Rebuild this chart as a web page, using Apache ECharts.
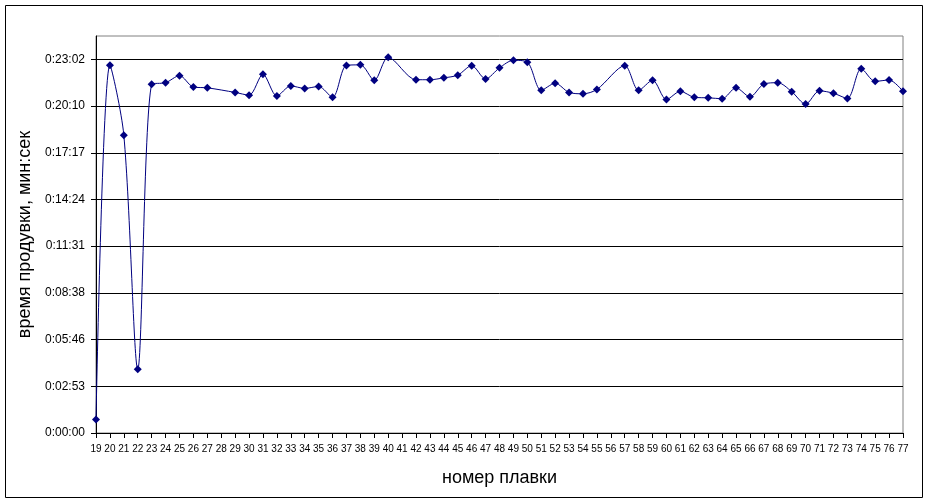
<!DOCTYPE html>
<html><head><meta charset="utf-8">
<script src="https://cdn.jsdelivr.net/npm/echarts@6/dist/echarts.min.js"></script>
<style>html,body{margin:0;padding:0;background:#fff}#c{width:929px;height:504px}</style>
</head><body><div id="c"></div>
<script>
// heat numbers (номер плавки)
const categories = [];
for (let n = 19; n <= 77; n++) categories.push(String(n));

// blowing time in seconds (null = no data for that heat)
const blowTimeSec = [
  50, 1361, 1102, 236, 1290, 1296, 1322, 1280, 1277, null,   // 19-28
  1260, 1250, 1327, 1247, 1284, 1275, 1282, 1242, 1360, 1362, // 29-38
  1305, 1390, null, 1307, 1307, 1314, 1324, 1359, 1310, 1351, // 39-48
  1379, 1372, 1268, 1294, 1260, 1255, 1271, null, 1359, 1268, // 49-58
  1305, 1234, 1264, 1242, 1240, 1237, 1277, 1244, 1291, 1296, // 59-68
  1263, 1217, 1266, 1257, 1238, 1348, 1301, 1306, 1264        // 69-77
];

const yTickLabels = ['0:00:00','0:02:53','0:05:46','0:08:38','0:11:31','0:14:24','0:17:17','0:20:10','0:23:02'];
const yInterval = 172.8;
const yMax = 1468.8;

const FONT = "'Liberation Sans', Arial, sans-serif";
const chart = echarts.init(document.getElementById('c'), null, {renderer: 'canvas'});
chart.setOption({
  animation: false,
  backgroundColor: '#ffffff',
  graphic: [{
    type: 'rect', silent: true, z: -1,
    shape: {x: 5.5, y: 5.5, width: 917, height: 492},
    style: {fill: 'none', stroke: '#000000', lineWidth: 1}
  }],
  grid: {
    left: 96, right: 26, top: 36, bottom: 71,
    show: true, borderColor: '#808080', borderWidth: 1, backgroundColor: 'transparent'
  },
  xAxis: {
    type: 'category',
    data: categories,
    boundaryGap: false,
    name: 'номер плавки',
    nameLocation: 'middle',
    nameGap: 36,
    nameTextStyle: {fontFamily: FONT, fontSize: 18, color: '#000'},
    axisLine: {lineStyle: {color: '#000', width: 1}},
    axisTick: {show: true, inside: false, length: 5, interval: 0, lineStyle: {color: '#000'}},
    axisLabel: {interval: 0, margin: 11, fontFamily: FONT, fontSize: 10, color: '#000'},
    splitLine: {show: false}
  },
  yAxis: {
    type: 'value',
    min: 0, max: yMax, interval: yInterval,
    name: 'время продувки, мин:сек',
    nameLocation: 'middle',
    nameRotate: 90,
    nameGap: 60,
    nameTextStyle: {fontFamily: FONT, fontSize: 18, color: '#000'},
    axisLine: {show: true, lineStyle: {color: '#000', width: 1}},
    axisTick: {show: true, inside: false, length: 5, lineStyle: {color: '#000'}},
    axisLabel: {
      margin: 11, fontFamily: FONT, fontSize: 12, color: '#000',
      showMaxLabel: false,
      formatter: function (v) {
        const i = Math.round(v / yInterval);
        return (Math.abs(v - i * yInterval) < 1e-6 && yTickLabels[i] !== undefined) ? yTickLabels[i] : '';
      }
    },
    splitLine: {show: true, showMinLine: false, showMaxLine: false, lineStyle: {color: '#000', width: 1}}
  },
  series: [{
    type: 'line',
    data: blowTimeSec,
    connectNulls: true,
    smooth: 0.3,
    symbol: 'diamond',
    symbolSize: 8,
    showSymbol: true,
    lineStyle: {color: '#000080', width: 1},
    itemStyle: {color: '#000080'}
  }]
});
</script>
</body></html>
